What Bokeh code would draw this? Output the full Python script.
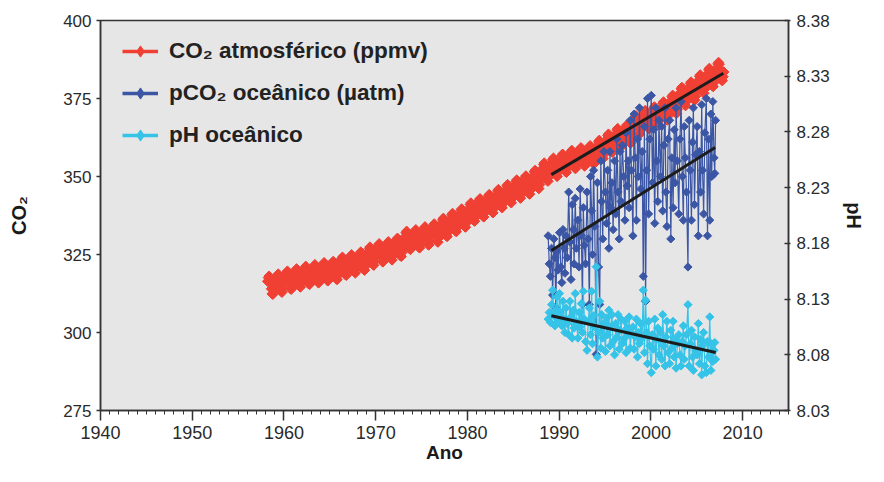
import numpy as np
from bokeh.plotting import figure
from bokeh.models import Range1d, LinearAxis, FixedTicker, PrintfTickFormatter, Legend, LegendItem
from bokeh.embed import file_html
from bokeh.resources import INLINE

# ---------------- data ----------------
# Atmospheric CO2 (Mauna Loa): annual means and mean monthly anomaly (Jan..Dec)
atm_years = list(range(1958, 2008))
atm_annual = [315.3, 315.97, 316.91, 317.64, 318.45, 318.99, 319.62, 320.04, 321.38, 322.16,
              323.04, 324.62, 325.68, 326.32, 327.45, 329.68, 330.18, 331.11, 332.04, 333.83,
              335.40, 336.84, 338.75, 340.11, 341.45, 343.05, 344.65, 346.12, 347.42, 349.19,
              351.57, 353.12, 354.39, 355.61, 356.45, 357.10, 358.83, 360.82, 362.61, 363.73,
              366.70, 368.38, 369.55, 371.14, 373.28, 375.80, 377.52, 379.80, 381.90, 383.79]
atm_monthly_anom = [0.0, 0.3, 1.1, 2.3, 2.8, 2.2, 0.7, -1.3, -2.9, -3.1, -1.8, -0.3]
atm_first_month = 3  # record starts March 1958

# Ocean station samples (decimal year), pCO2 (uatm) and pH
hot_t = [1988.80, 1988.92,
         1989.04, 1989.17, 1989.29, 1989.42, 1989.54, 1989.63, 1989.75, 1989.88,
         1990.04, 1990.17, 1990.29, 1990.42, 1990.54, 1990.63, 1990.75, 1990.88,
         1991.04, 1991.17, 1991.29, 1991.42, 1991.54, 1991.63, 1991.75, 1991.88,
         1992.04, 1992.17, 1992.29, 1992.42, 1992.54, 1992.63, 1992.75, 1992.88,
         1993.04, 1993.17, 1993.29, 1993.42, 1993.54, 1993.63, 1993.75, 1993.88,
         1994.04, 1994.17, 1994.29, 1994.42, 1994.54, 1994.63, 1994.75, 1994.88,
         1995.04, 1995.17, 1995.29, 1995.42, 1995.54, 1995.63, 1995.75, 1995.88,
         1996.04, 1996.17, 1996.29, 1996.42, 1996.54, 1996.63, 1996.75, 1996.88,
         1997.04, 1997.17, 1997.29, 1997.42, 1997.54, 1997.63, 1997.75, 1997.88,
         1998.04, 1998.17, 1998.29, 1998.42, 1998.54, 1998.63, 1998.75, 1998.88,
         1999.04, 1999.17, 1999.29, 1999.42, 1999.54, 1999.63, 1999.75, 1999.88,
         2000.04, 2000.17, 2000.29, 2000.42, 2000.54, 2000.63, 2000.75, 2000.88,
         2001.04, 2001.17, 2001.29, 2001.42, 2001.54, 2001.63, 2001.75, 2001.88,
         2002.04, 2002.17, 2002.29, 2002.42, 2002.54, 2002.63, 2002.75, 2002.88,
         2003.04, 2003.17, 2003.29, 2003.42, 2003.54, 2003.63, 2003.75, 2003.88,
         2004.04, 2004.17, 2004.29, 2004.42, 2004.54, 2004.63, 2004.75, 2004.88,
         2005.04, 2005.17, 2005.29, 2005.42, 2005.54, 2005.63, 2005.75, 2005.88,
         2006.04, 2006.17, 2006.29, 2006.42, 2006.54, 2006.63, 2006.75, 2006.88,
         2006.96, 2007.05]
hot_pco2 = [331, 322,
            318, 327, 312, 330, 324, 308, 326, 320,
            332, 321, 316, 333, 327, 319, 331, 324,
            345, 329, 317, 341, 333, 322, 343, 327,
            336, 321, 346, 331, 309, 340, 328, 322,
            345, 330, 309, 350, 339, 325, 352, 334,
            293, 348, 321, 309, 355, 342, 330, 358,
            345, 335, 352, 327, 358, 340, 348, 333,
            355, 338, 362, 345, 330, 358, 342, 360,
            350, 336, 364, 347, 355, 340, 368, 352,
            331, 370, 356, 336, 362, 350, 372, 346,
            358, 318, 366, 310, 352, 375, 338, 362,
            376, 348, 365, 335, 372, 355, 342, 368,
            350, 366, 339, 360, 372, 345, 334, 362,
            368, 330, 356, 340, 365, 348, 372, 355,
            338, 362, 374, 350, 336, 366, 356, 345,
            321, 368, 352, 336, 361, 372, 341, 357,
            366, 331, 358, 345, 373, 352, 338, 364,
            375, 331, 362, 336, 370, 350, 374, 356,
            351, 368]
hot_ph = [8.112, 8.118,
          8.109, 8.125, 8.138, 8.115, 8.106, 8.120, 8.132, 8.110,
          8.135, 8.118, 8.106, 8.128, 8.112, 8.100, 8.122, 8.108,
          8.098, 8.128, 8.114, 8.095, 8.120, 8.104, 8.135, 8.110,
          8.095, 8.118, 8.105, 8.126, 8.100, 8.137, 8.112, 8.092,
          8.084, 8.110, 8.122, 8.098, 8.137, 8.090, 8.115, 8.105,
          8.159, 8.078, 8.100, 8.128, 8.086, 8.116, 8.095, 8.108,
          8.083, 8.113, 8.098, 8.120, 8.088, 8.105, 8.116, 8.092,
          8.080, 8.108, 8.096, 8.116, 8.085, 8.102, 8.112, 8.090,
          8.094, 8.110, 8.082, 8.104, 8.098, 8.114, 8.086, 8.100,
          8.105, 8.085, 8.096, 8.112, 8.078, 8.100, 8.090, 8.108,
          8.095, 8.138, 8.082, 8.129, 8.100, 8.072, 8.110, 8.088,
          8.064, 8.098, 8.085, 8.112, 8.070, 8.094, 8.104, 8.080,
          8.100, 8.076, 8.116, 8.088, 8.070, 8.096, 8.110, 8.082,
          8.072, 8.102, 8.086, 8.110, 8.078, 8.094, 8.068, 8.090,
          8.098, 8.080, 8.070, 8.092, 8.106, 8.076, 8.088, 8.098,
          8.125, 8.070, 8.090, 8.102, 8.078, 8.066, 8.096, 8.084,
          8.080, 8.108, 8.072, 8.094, 8.062, 8.088, 8.100, 8.070,
          8.064, 8.092, 8.078, 8.114, 8.066, 8.090, 8.074, 8.084,
          8.091, 8.076]

# Trend lines (end points)
trend_atm_t = [1989.15, 2007.9]
trend_atm_v = [350.6, 383.1]
trend_pco2_t = [1989.15, 2007.0]
trend_pco2_v = [326.3, 359.3]
trend_ph_t = [1989.15, 2007.07]
trend_ph_v = [8.115, 8.082]

co2_ticks = [275, 300, 325, 350, 375, 400]
ph_ticks = [8.03, 8.08, 8.13, 8.18, 8.23, 8.28, 8.33, 8.38]
year_ticks = [1940, 1950, 1960, 1970, 1980, 1990, 2000, 2010]
year_minor = list(range(1940, 2016))

labels = ["CO\u2082 atmosférico (ppmv)", "pCO\u2082 oceânico (µatm)", "pH oceânico"]

# monthly atmospheric series from the annual means + monthly anomalies
co2_t, co2_v = [], []
for yr, mean in zip(atm_years, atm_annual):
    for m, an in enumerate(atm_monthly_anom):
        if yr == atm_years[0] and m + 1 < atm_first_month:
            continue
        co2_t.append(yr + (m + 0.5) / 12)
        co2_v.append(mean + an)

# ---------------- styling ----------------
RED = "#f04034"
BLUE = "#3b56a5"
CYAN = "#35c3e8"
BLACK = "#1c1c1c"
AXC = "#333333"
FONT = "Liberation Sans"

p = figure(width=868, height=466, x_range=Range1d(1940, 2015), y_range=Range1d(275, 400),
           output_backend="svg", toolbar_location=None,
           min_border_left=100, min_border_right=80, min_border_top=20, min_border_bottom=56,
           background_fill_color="#e6e6e6", border_fill_color="white")
p.extra_y_ranges = {"ph": Range1d(8.03, 8.38)}
p.grid.visible = False
p.outline_line_color = AXC
p.outline_line_width = 1.5

# legend-only renderers (tiny, hidden below the data)
leg_r = []
for col, xs, ys, rng in [(RED, co2_t, co2_v, "default"), (BLUE, hot_t, hot_pco2, "default"),
                         (CYAN, hot_t, hot_ph, "ph")]:
    l = p.line(xs[:1], ys[:1], line_color=col, line_width=3.5, y_range_name=rng)
    s = p.scatter(xs[:1], ys[:1], marker="diamond", size=1, fill_color=col, line_color=col,
                  y_range_name=rng)
    leg_r.append([l, s])

# data
p.line(co2_t, co2_v, line_color=RED, line_width=1.5)
p.scatter(co2_t, co2_v, marker="square", angle=np.pi / 4, size=7.2, fill_color=RED, line_color=RED)

p.line(hot_t, hot_pco2, line_color=BLUE, line_width=1.2)
p.scatter(hot_t, hot_pco2, marker="square", angle=np.pi / 4, size=5.8, fill_color=BLUE, line_color=BLUE)

p.line(hot_t, hot_ph, line_color=CYAN, line_width=1.2, y_range_name="ph")
p.scatter(hot_t, hot_ph, marker="square", angle=np.pi / 4, size=5.8, fill_color=CYAN, line_color=CYAN,
          y_range_name="ph")

p.line(trend_atm_t, trend_atm_v, line_color=BLACK, line_width=3)
p.line(trend_pco2_t, trend_pco2_v, line_color=BLACK, line_width=3)
p.line(trend_ph_t, trend_ph_v, line_color=BLACK, line_width=3, y_range_name="ph")

# axes
def style_axis(ax, size="17px", lsize="20px"):
    ax.axis_line_color = AXC
    ax.axis_line_width = 1.5
    ax.major_tick_line_color = AXC
    ax.major_tick_line_width = 1.5
    ax.minor_tick_line_color = AXC
    ax.major_label_text_font = FONT
    ax.major_label_text_font_size = size
    ax.major_label_text_color = "#2a2a2a"
    ax.axis_label_text_font = FONT
    ax.axis_label_text_font_size = lsize
    ax.axis_label_text_font_style = "bold"
    ax.axis_label_text_color = "#1a1a1a"

yl = p.yaxis[0]
yl.ticker = FixedTicker(ticks=co2_ticks)
yl.major_tick_in = 0
yl.major_tick_out = 4
yl.major_label_standoff = 5
yl.axis_label = "CO\u2082"
yl.axis_label_standoff = 30
style_axis(yl)

xb = p.xaxis[0]
xb.ticker = FixedTicker(ticks=year_ticks, minor_ticks=year_minor)
xb.major_tick_in = 0
xb.major_tick_out = 10
xb.minor_tick_in = 0
xb.minor_tick_out = 4
xb.major_label_standoff = 5
xb.axis_label = "Ano"
xb.axis_label_standoff = 0
style_axis(xb, "18px", "19px")

yr_ax = LinearAxis(y_range_name="ph", ticker=FixedTicker(ticks=ph_ticks),
                   formatter=PrintfTickFormatter(format="%.2f"))
yr_ax.major_tick_in = 4
yr_ax.major_tick_out = 2
yr_ax.major_label_standoff = 6
yr_ax.axis_label = "pH"
yr_ax.axis_label_standoff = 10
style_axis(yr_ax)
p.add_layout(yr_ax, "right")

legend = Legend(items=[LegendItem(label=labels[i], renderers=leg_r[i]) for i in range(3)],
                location=(14, 253), glyph_width=36, glyph_height=28, label_standoff=11,
                spacing=14, padding=8, margin=0, label_height=28,
                label_text_font=FONT, label_text_font_size="22.5px", label_text_font_style="bold",
                label_text_color="#222222", background_fill_alpha=0, border_line_alpha=0)
p.add_layout(legend, "center")

open("out.html", "w").write(file_html(p, INLINE))
